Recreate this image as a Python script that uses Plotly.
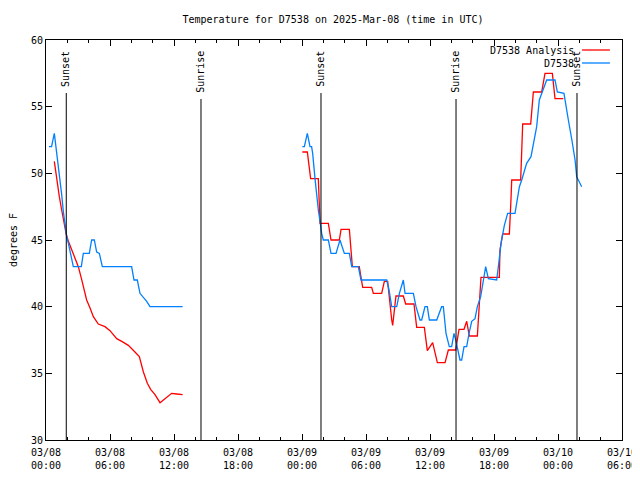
import pandas as pd
import plotly.graph_objects as go

# ---- data (hours after 2025-03-08 00:00 UTC, temperature degF) ----
obs_h1 = [0.28, 0.52, 0.78, 0.94, 1.16, 1.31, 1.47, 1.63, 1.78, 1.94, 2.10, 2.31, 2.56, 3.31, 3.50,
          4.06, 4.28, 4.53, 4.75, 5.00, 5.28, 8.03, 8.25, 8.56, 8.81, 9.44, 9.75, 12.81]
obs_v1 = [52, 52, 53, 52, 50.75, 49.6, 48.4, 47.1, 46.1, 45.25, 44.75, 44, 43, 43, 44,
          44, 45, 45, 44.1, 44, 43, 43, 42, 42, 41, 40.4, 40, 40]

obs_h2 = [24.03, 24.22, 24.50, 24.75, 24.90, 25.00, 25.22, 25.38, 25.53, 25.69, 25.84, 26.00, 26.47,
          26.72, 27.19, 27.56, 27.97, 28.44, 28.66, 29.28, 29.53, 31.94, 32.16, 32.41, 32.88, 33.13,
          33.50, 33.66, 34.44, 34.69, 35.06, 35.22, 35.53, 35.75, 35.94, 36.63, 37.09, 37.25, 37.50,
          37.81, 38.03, 38.25, 38.44, 38.81, 38.97, 39.19, 39.44, 39.66, 39.91, 40.22, 40.44, 40.75,
          41.00, 41.22, 41.47, 42.25, 42.41, 42.66, 42.97, 43.28, 43.97, 44.19, 44.38, 44.60, 45.06,
          45.47, 45.75, 46.00, 46.25, 46.63, 46.94, 47.72, 47.94, 48.56, 48.75, 48.97, 49.30, 49.60,
          49.75, 50.22]
obs_v2 = [52, 52, 53, 52, 52, 51.5, 49.6, 48.25, 47.25, 46.4, 45.5, 45, 45,
          44, 44, 45, 44, 44, 43, 43, 42, 42, 41.25, 40, 40, 41,
          42, 41, 41, 40, 39, 39, 40, 40, 39, 39, 40, 40, 38,
          37, 37, 38, 37.4, 36, 36, 37, 37, 38, 38.9, 39.1, 40, 40.75,
          41.9, 43, 42.1, 42, 43, 44.75, 46.1, 47, 47, 48, 49, 49.5, 50.75,
          51.25, 52.5, 53.5, 55.5, 56.25, 57, 57, 56.1, 56, 55, 54, 52.5, 51,
          49.75, 49]

ana_h1 = [0.78, 1.00, 1.25, 1.47, 1.69, 1.88, 2.10, 2.41, 2.72, 3.03, 3.34, 3.60, 3.81, 4.13, 4.44,
          4.90, 5.53, 6.00, 6.63, 7.10, 7.72, 8.34, 8.75, 9.13, 9.50, 9.81, 10.22, 10.69, 11.16,
          11.78, 12.25, 12.81]
ana_v1 = [50.9, 49.6, 48.25, 47.25, 46.25, 45.5, 44.9, 44.25, 43.6, 43.0, 42.05, 41.1, 40.5, 39.9, 39.25,
          38.7, 38.5, 38.2, 37.6, 37.4, 37.1, 36.6, 36.25, 35.1, 34.25, 33.8, 33.4, 32.8, 33.1,
          33.5, 33.45, 33.4]

ana_h2 = [24.03, 24.50, 24.81, 25.53, 25.69, 26.47, 26.72, 27.50, 27.66, 28.44, 28.72, 29.37, 29.69,
          30.53, 30.69, 31.47, 31.72, 32.03, 32.41, 32.50, 32.81, 33.50, 33.72, 34.50, 34.75, 35.47,
          35.75, 36.25, 36.69, 37.41, 37.72, 38.41, 38.72, 39.19, 39.44, 39.69, 40.44, 40.63, 40.75,
          40.78, 42.50, 42.56, 42.81, 43.44, 43.59, 43.66, 44.50, 44.69, 45.44, 45.69, 46.47, 46.78,
          47.47, 47.72, 48.50]
ana_v2 = [51.6, 51.6, 49.6, 49.6, 46.25, 46.25, 45.0, 45.0, 45.8, 45.8, 43.0, 43.0, 41.45,
          41.45, 41.0, 41.0, 41.9, 41.9, 39.0, 38.6, 40.8, 40.8, 40.2, 40.2, 38.45, 38.45,
          36.7, 37.3, 35.8, 35.8, 36.75, 36.75, 38.3, 38.3, 38.9, 37.8, 37.8, 39.9, 41.45,
          42.2, 42.2, 44.25, 45.45, 45.45, 48.0, 49.5, 49.5, 53.7, 53.7, 56.1, 56.1, 57.5,
          57.5, 55.6, 55.6]

sun_names = ["Sunset", "Sunrise", "Sunset", "Sunrise", "Sunset"]
sun_hours = [1.90, 14.53, 25.78, 38.44, 49.78]

x_ticks_h = [0, 6, 12, 18, 24, 30, 36, 42, 48, 54]

BASE = pd.Timestamp("2025-03-08 00:00")


def to_time(hours):
    return [BASE + pd.Timedelta(hours=h) for h in hours]


def join(h1, v1, h2, v2):
    return to_time(h1) + [None] + to_time(h2), list(v1) + [None] + list(v2)


FONT = "DejaVu Sans Mono"

fig = go.Figure()
ax, ay = join(ana_h1, ana_v1, ana_h2, ana_v2)
fig.add_trace(go.Scatter(x=ax, y=ay, mode="lines", name="D7538 Analysis",
                         line=dict(color="#ff0000", width=1.3), connectgaps=False))
ox, oy = join(obs_h1, obs_v1, obs_h2, obs_v2)
fig.add_trace(go.Scatter(x=ox, y=oy, mode="lines", name="D7538",
                         line=dict(color="#0080ff", width=1.3), connectgaps=False))

# sunrise / sunset markers
for name, h in zip(sun_names, sun_hours):
    t = BASE + pd.Timedelta(hours=h)
    top = 0.8675 if name == "Sunset" else 0.8525
    fig.add_shape(type="line", xref="x", yref="paper", x0=t, x1=t, y0=0, y1=top,
                  line=dict(color="black", width=1))
    fig.add_annotation(x=t, y=0.978, xref="x", yref="paper", text=name, textangle=-90,
                       showarrow=False, xanchor="center", yanchor="top",
                       font=dict(family=FONT, size=10, color="black"))

# gnuplot-style legend (text then line sample)
leg = [("D7538 Analysis", "#ff0000", 0.975), ("D7538", "#0080ff", 0.9425)]
for label, color, yy in leg:
    fig.add_annotation(x=0.920, y=yy, xref="paper", yref="paper", text=label, showarrow=False,
                       xanchor="right", yanchor="middle",
                       font=dict(family=FONT, size=10, color="black"))
    fig.add_shape(type="line", xref="paper", yref="paper", x0=0.9306, x1=0.979, y0=yy, y1=yy,
                  line=dict(color=color, width=1.3))

tickvals = to_time(x_ticks_h)
fig.update_layout(
    width=632, height=472,
    margin=dict(l=38, r=18, t=32, b=40, autoexpand=False),
    paper_bgcolor="white", plot_bgcolor="white",
    showlegend=False,
    font=dict(family=FONT, size=10, color="black"),
    title=dict(text="Temperature for D7538 on 2025-Mar-08 (time in UTC)",
               x=325 / 632, xref="container", xanchor="center",
               y=1 - 11 / 472, yref="container", yanchor="middle",
               font=dict(family=FONT, size=10, color="black")),
    xaxis=dict(type="date", range=[tickvals[0], tickvals[-1]], tickvals=tickvals,
               tickformat="%m/%d<br>%H:%M", ticks="inside", ticklen=6, tickcolor="black",
               ticklabelstandoff=3,
               showline=True, linecolor="black", linewidth=1, mirror="allticks",
               showgrid=False, zeroline=False, automargin=False,
               minor=dict(dtick=2 * 3600 * 1000, ticks="inside", ticklen=3,
                          tickcolor="black", showgrid=False)),
    yaxis=dict(range=[30, 60], dtick=5, ticks="inside", ticklen=6, tickcolor="black",
               showline=True, linecolor="black", linewidth=1, mirror="allticks",
               showgrid=False, zeroline=False, automargin=False,
               title=dict(text="degrees F", standoff=14, font=dict(family=FONT, size=10))),
)

fig.write_html("out.html")
